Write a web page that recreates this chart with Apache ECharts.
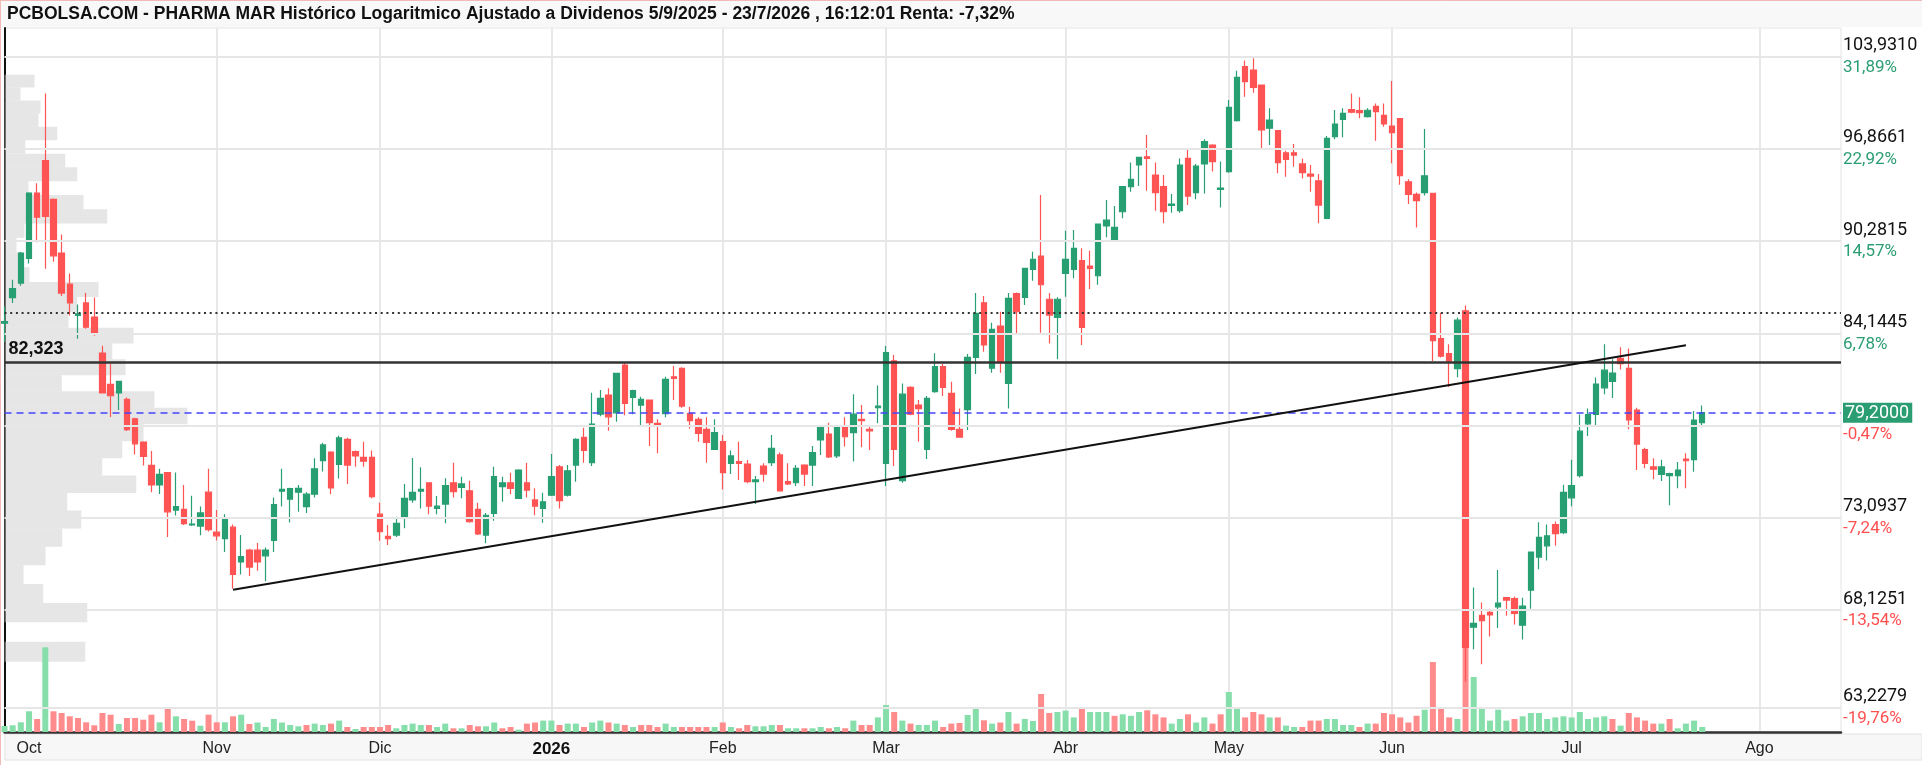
<!DOCTYPE html>
<html>
<head>
<meta charset="utf-8">
<script src="https://cdn.jsdelivr.net/npm/echarts@6/dist/echarts.min.js"></script>
<style>
  html, body { margin: 0; padding: 0; background: #fff; }
  #chart { width: 1922px; height: 765px; }
</style>
</head>
<body>
<div id="chart"></div>
<script>
var title = "PCBOLSA.COM - PHARMA MAR Histórico Logaritmico Ajustado a Dividenos 5/9/2025 - 23/7/2026 , 16:12:01 Renta: -7,32%";

// trading calendar shown on the x axis
var firstDay = "2025-09-26";
var lastDay = "2026-08-17";
var holidays = ["2025-12-25", "2025-12-26", "2026-01-01", "2026-04-03", "2026-04-06", "2026-05-01"];
var monthLabels = ["2026", "Feb", "Mar", "Abr", "May", "Jun", "Jul", "Ago", "Sep", "Oct", "Nov", "Dic"];

// daily candles, index 0 = 26/9/2025
var opens = [84.80, 86.47, 87.43, 89.10, 93.65, 95.99, 93.20, 89.46, 87.36, 85.30,
  86.12, 85.19, 82.89, 80.93, 80.40, 80.01, 78.83, 77.45, 76.08, 74.95,
  75.67, 73.53, 73.57, 72.70, 72.64, 74.54, 72.30, 71.95, 72.58, 70.68,
  71.32, 71.32, 71.01, 71.85, 74.60, 74.14, 74.54, 73.73, 74.43, 76.36,
  76.86, 76.14, 77.61, 76.89, 76.55, 76.55, 73.30, 72.07, 72.14, 73.07,
  74.10, 74.60, 75.08, 73.62, 73.87, 75.08, 74.82, 74.62, 73.57, 72.14,
  73.34, 74.86, 75.08, 74.19, 75.08, 74.10, 73.62, 74.37, 76.00, 74.37,
  76.10, 77.73, 76.24, 79.11, 80.27, 79.19, 82.13, 80.13, 79.66, 79.97,
  78.56, 79.15, 81.40, 81.93, 79.15, 78.80, 78.20, 77.02, 77.47, 76.20,
  76.30, 76.16, 75.14, 76.04, 76.24, 76.69, 75.14, 75.08, 76.10, 76.10,
  77.57, 77.92, 76.63, 78.36, 78.00, 78.80, 78.20, 79.50, 76.20, 82.40,
  75.20, 80.74, 79.66, 77.02, 80.48, 82.03, 80.38, 78.20, 79.39, 82.61,
  86.13, 81.93, 84.61, 80.99, 86.74, 86.48, 88.35, 89.25, 86.36, 85.17,
  88.08, 88.35, 88.94, 88.57, 87.92, 91.32, 90.35, 92.32, 94.10, 95.67,
  96.27, 94.94, 94.10, 92.77, 92.39, 96.15, 93.67, 95.75, 97.14, 93.90,
  95.19, 98.96, 103.13, 102.86, 101.69, 98.39, 98.21, 96.57, 96.57, 95.75,
  95.01, 94.53, 91.86, 97.76, 99.06, 99.80, 99.72, 99.27, 100.04, 99.36,
  98.56, 99.12, 94.45, 93.55, 93.68, 93.63, 83.80, 82.86, 81.91, 85.60,
  67.25, 67.86, 68.01, 68.30, 68.78, 68.73, 67.35, 69.17, 70.94, 71.55,
  72.72, 72.27, 74.22, 75.49, 78.53, 79.09, 80.72, 81.12, 82.55, 81.92,
  79.36, 77.00, 75.99, 75.56, 75.49, 75.49, 76.45, 76.41, 78.60];
var closes = [84.90, 87.06, 89.46, 93.65, 91.94, 92.00, 89.27, 86.77, 86.12, 85.40,
  84.54, 84.08, 80.40, 80.23, 81.11, 78.18, 77.34, 76.60, 74.95, 75.56,
  73.43, 73.73, 72.78, 72.75, 73.37, 72.44, 72.10, 73.09, 70.01, 70.97,
  70.40, 70.68, 71.32, 73.84, 74.70, 74.74, 74.76, 74.43, 75.88, 77.28,
  74.78, 77.69, 76.10, 76.63, 76.32, 74.29, 72.33, 71.94, 72.79, 74.19,
  74.53, 74.70, 73.75, 73.75, 74.92, 74.57, 75.01, 72.88, 72.20, 73.24,
  75.43, 75.08, 74.76, 75.81, 74.66, 73.75, 74.00, 75.43, 74.06, 75.77,
  77.61, 76.95, 78.51, 80.07, 78.95, 81.61, 79.77, 80.54, 80.01, 78.60,
  78.40, 81.24, 81.30, 79.60, 78.72, 77.96, 77.42, 78.00, 75.66, 76.63,
  76.20, 75.14, 75.24, 75.58, 77.08, 74.62, 75.01, 75.91, 75.58, 76.83,
  78.32, 76.57, 78.32, 77.76, 79.11, 78.72, 78.11, 79.60, 82.91, 77.02,
  80.33, 79.11, 79.45, 80.07, 82.03, 80.74, 78.20, 77.73, 82.61, 85.43,
  83.40, 84.40, 82.28, 86.42, 85.54, 88.42, 89.03, 87.32, 85.32, 86.36,
  89.03, 89.78, 84.53, 88.42, 91.46, 91.74, 91.23, 94.10, 94.63, 96.23,
  96.15, 93.67, 92.32, 92.86, 95.67, 93.43, 95.60, 97.39, 95.92, 94.00,
  99.97, 102.29, 101.95, 101.51, 98.26, 99.01, 95.85, 96.08, 96.40, 95.12,
  94.87, 92.79, 97.64, 98.71, 99.52, 99.60, 99.57, 99.75, 99.65, 98.71,
  98.06, 94.89, 93.55, 93.11, 94.89, 83.68, 82.69, 82.38, 84.99, 66.22,
  67.44, 67.58, 67.88, 68.49, 68.65, 67.96, 68.34, 71.21, 72.02, 72.10,
  72.22, 74.53, 74.92, 78.09, 79.09, 80.95, 81.81, 81.63, 82.22, 78.76,
  77.33, 76.20, 75.86, 75.99, 75.60, 75.81, 76.35, 78.76, 79.20];
var lows = [83.60, 86.12, 87.26, 88.74, 90.20, 88.39, 88.86, 86.58, 85.30, 83.80,
  84.44, 83.99, 80.40, 78.94, 79.36, 78.10, 76.71, 76.08, 74.54, 74.44,
  72.03, 73.23, 72.70, 72.64, 72.13, 72.34, 71.85, 71.21, 69.25, 70.01,
  69.92, 70.20, 69.64, 71.21, 73.73, 72.84, 73.43, 73.37, 74.24, 75.73,
  74.43, 75.32, 75.01, 76.00, 76.00, 74.19, 71.83, 71.60, 72.04, 72.52,
  73.94, 73.62, 73.30, 73.30, 72.79, 74.24, 74.19, 72.83, 72.15, 71.69,
  72.93, 74.00, 74.43, 74.15, 74.24, 73.24, 72.83, 74.33, 73.62, 74.30,
  75.14, 76.24, 76.04, 78.99, 78.11, 78.66, 79.05, 79.11, 78.46, 77.22,
  76.79, 78.93, 79.97, 79.50, 78.24, 77.47, 76.24, 76.98, 74.70, 75.58,
  75.24, 75.05, 73.87, 75.14, 76.04, 74.57, 74.95, 74.89, 74.89, 74.89,
  76.69, 76.51, 76.51, 77.18, 76.30, 77.14, 76.98, 78.56, 74.89, 76.04,
  75.08, 79.05, 77.47, 76.45, 80.42, 80.21, 78.11, 77.70, 78.16, 81.57,
  82.97, 81.65, 81.65, 79.45, 84.14, 85.98, 87.59, 84.18, 83.50, 82.50,
  86.52, 87.75, 83.40, 87.04, 87.32, 90.54, 90.30, 91.86, 93.74, 94.15,
  93.81, 92.39, 91.51, 92.25, 92.25, 92.79, 93.20, 93.62, 95.19, 92.62,
  95.10, 98.90, 100.79, 101.09, 96.89, 97.14, 95.08, 94.82, 95.55, 94.70,
  93.74, 91.51, 91.80, 97.57, 97.72, 99.52, 99.14, 99.20, 97.46, 98.51,
  95.79, 94.24, 92.87, 91.22, 93.47, 82.38, 82.60, 80.77, 81.37, 64.50,
  66.12, 65.37, 66.77, 67.20, 67.83, 67.39, 66.62, 68.20, 70.29, 70.75,
  71.55, 72.20, 73.74, 75.38, 77.80, 78.46, 80.33, 80.10, 81.85, 78.20,
  75.81, 75.92, 75.28, 75.18, 73.80, 74.76, 74.76, 75.71, 78.32];
var highs = [85.90, 87.66, 89.52, 93.70, 94.35, 101.03, 93.25, 90.74, 88.07, 86.02,
  86.77, 86.47, 83.35, 82.22, 81.11, 80.12, 78.90, 77.50, 76.92, 75.88,
  75.70, 75.67, 74.95, 74.34, 73.73, 75.88, 73.53, 73.30, 72.73, 72.14,
  71.40, 71.71, 71.46, 74.24, 75.88, 74.80, 74.95, 74.54, 76.50, 77.40,
  76.90, 77.82, 77.70, 76.95, 77.47, 76.95, 73.94, 72.70, 73.16, 75.01,
  76.51, 75.97, 75.10, 74.33, 75.34, 76.24, 75.43, 75.20, 73.94, 73.37,
  76.00, 75.43, 75.66, 75.85, 76.24, 74.76, 74.51, 76.75, 76.10, 76.10,
  77.67, 78.30, 80.42, 80.58, 80.69, 81.65, 82.24, 80.60, 80.17, 80.00,
  78.80, 81.40, 82.07, 82.00, 79.56, 78.93, 78.93, 78.80, 77.86, 76.95,
  77.47, 76.39, 75.47, 76.20, 77.86, 76.83, 76.20, 76.10, 76.15, 77.22,
  78.35, 78.60, 78.35, 78.93, 80.33, 79.66, 78.46, 80.86, 83.33, 82.76,
  80.99, 80.82, 79.97, 80.21, 82.87, 82.20, 81.09, 79.45, 82.82, 86.78,
  86.58, 84.83, 85.54, 86.78, 86.80, 88.45, 89.54, 93.50, 86.78, 86.49,
  90.99, 91.04, 89.78, 89.61, 91.50, 93.15, 92.72, 94.15, 95.85, 96.25,
  97.88, 95.85, 94.94, 93.57, 96.15, 96.89, 95.75, 97.57, 97.20, 95.92,
  100.53, 102.81, 103.60, 103.79, 101.70, 99.90, 98.25, 96.72, 97.21, 96.15,
  95.67, 95.01, 97.81, 99.77, 99.90, 101.04, 100.75, 99.90, 100.27, 100.27,
  102.00, 99.15, 94.64, 93.68, 98.34, 93.65, 85.47, 83.44, 85.16, 85.95,
  69.31, 68.53, 68.20, 70.25, 68.80, 68.84, 68.78, 71.25, 72.85, 72.72,
  72.89, 74.96, 76.41, 79.09, 79.45, 81.36, 83.44, 82.50, 83.26, 83.17,
  79.50, 77.11, 76.50, 76.41, 75.65, 76.28, 76.79, 79.31, 79.63];
// daily volume (thousand shares)
var volumes = [60, 67, 97, 207, 130, 847, 207, 190, 157, 140,
  97, 67, 190, 173, 80, 140, 140, 123, 173, 97,
  250, 157, 130, 113, 63, 173, 97, 97, 157, 173,
  80, 95, 50, 130, 95, 70, 57, 70, 84, 70,
  84, 114, 50, 30, 50, 50, 50, 70, 37, 70,
  84, 70, 70, 50, 84, 37, 37, 70, 57, 57,
  95, 37, 50, 24, 84, 95, 114, 114, 70, 84,
  84, 50, 95, 114, 95, 84, 70, 50, 70, 70,
  50, 84, 50, 50, 50, 50, 50, 50, 95, 50,
  37, 70, 57, 57, 70, 70, 37, 37, 37, 37,
  50, 37, 50, 37, 114, 70, 70, 146, 270, 200,
  114, 84, 70, 70, 114, 50, 84, 90, 170, 237,
  117, 84, 95, 200, 84, 130, 110, 380, 190, 200,
  214, 146, 237, 200, 200, 200, 162, 177, 162, 200,
  217, 177, 146, 84, 130, 177, 95, 146, 84, 177,
  400, 237, 146, 200, 177, 146, 146, 64, 50, 50,
  114, 114, 130, 130, 70, 70, 50, 84, 84, 190,
  177, 146, 95, 162, 223, 700, 237, 146, 130, 880,
  550, 237, 114, 223, 114, 130, 157, 190, 190, 130,
  146, 157, 146, 200, 130, 146, 157, 130, 64, 190,
  146, 114, 84, 84, 130, 37, 84, 114, 50];

// volume by price (bins of 1 euro)
var profilePrices = [66, 67, 68, 69, 70, 71, 72, 73, 74, 75, 76, 77, 78, 79, 80, 81, 82, 83, 84,
  85, 86, 87, 88, 89, 90, 91, 92, 93, 94, 95, 96, 97, 98, 99, 100, 101, 102];
var profileVolumes = [807, 0, 827, 387, 190, 410, 577, 767, 627, 1317, 977, 1177, 1390, 1830, 1500, 573, 1210, 1077, 1290,
  640, 727, 940, 250, 180, 120, 200, 1027, 790, 240, 727, 607, 207, 527, 340, 360, 160, 300];

// right axis levels
var gridPrices = [103.931, 96.8661, 90.2815, 84.1445, 78.4247, 73.0937, 68.1251, 63.2279];
var gridPriceLabels = ["103,9310", "96,8661", "90,2815", "84,1445", "", "73,0937", "68,1251", "63,2279"];
var gridPctLabels = ["31,89%", "22,92%", "14,57%", "6,78%", "", "-7,24%", "-13,54%", "-19,76%"];

var lastPrice = 79.2, lastPriceLabel = "79,2000", lastChangeLabel = "-0,47%";
var resistance = 82.323, resistanceLabel = "82,323";
var startPrice = 85.455;
var trendFrom = [28, 69.19], trendTo = [206, 83.38];

var upColor = "#279f72", downColor = "#ff5454";
var volUp = "#86deab", volDown = "#ff8c8c";

function buildDates() {
  var out = [];
  var d = new Date(firstDay + "T00:00:00Z");
  var end = new Date(lastDay + "T00:00:00Z");
  while (d <= end) {
    var s = d.toISOString().slice(0, 10);
    var wd = d.getUTCDay();
    if (wd !== 0 && wd !== 6 && holidays.indexOf(s) < 0) out.push(s);
    d.setUTCDate(d.getUTCDate() + 1);
  }
  return out;
}
var dates = buildDates();
var monthStart = dates.map(function (s, i) {
  return i > 0 && s.slice(5, 7) !== dates[i - 1].slice(5, 7);
});

var candles = opens.map(function (o, i) {
  return [o, closes[i], lows[i], highs[i]];
});
var volData = volumes.map(function (v, i) {
  var up = i === 0 ? closes[i] >= opens[i] : closes[i] >= closes[i - 1];
  return { value: v, itemStyle: { color: up ? volUp : volDown } };
});
var profData = profilePrices.map(function (p, i) {
  return [profileVolumes[i], p];
});

var gridLineData = gridPrices.map(function (p, i) {
  var txt = gridPriceLabels[i];
  var pct = gridPctLabels[i];
  return {
    yAxis: p,
    label: {
      show: txt !== "",
      formatter: "{p|" + txt + "}\n{" + (pct.charAt(0) === "-" ? "dn" : "up") + "|" + pct + "}"
    }
  };
});

var labelRich = {
  p: { fontFamily: "Roboto", fontSize: 18, color: "#111", lineHeight: 22 },
  up: { fontFamily: "Roboto", fontSize: 17, color: "#2a9d72", lineHeight: 22 },
  dn: { fontFamily: "Roboto", fontSize: 17, color: "#ff5050", lineHeight: 22 },
  s: { fontSize: 10, lineHeight: 22 },
  box: { fontFamily: "Roboto", fontSize: 18, color: "#fff", backgroundColor: "#2a9d72", lineHeight: 22, padding: [2, 3, 0, 2] }
};

var chart = echarts.init(document.getElementById("chart"));
chart.setOption({
  animation: false,
  backgroundColor: "#fff",
  graphic: [
    { type: "rect", z: -10, shape: { x: 0, y: 0, width: 1922, height: 27 }, style: { fill: "#f8f8f8" } },
    { type: "rect", z: -10, shape: { x: 5, y: 734, width: 1917, height: 26 }, style: { fill: "#f7f7f7", stroke: "#e2e2e2", lineWidth: 1 } },
    { type: "line", z: 10, shape: { x1: 0.5, y1: 0, x2: 0.5, y2: 765 }, style: { stroke: "#f2b9b9", lineWidth: 1 } },
    { type: "line", z: 10, shape: { x1: 0, y1: 0.5, x2: 1922, y2: 0.5 }, style: { stroke: "#f2b9b9", lineWidth: 1 } },
    {
      type: "text", left: 7, top: 5, z: 10,
      style: { text: title, font: 'bold 17.5px "Liberation Sans"', fill: "#111" }
    }
  ],
  grid: { left: 4.5, right: 81, top: 28, bottom: 33, show: true, borderColor: "#e4e4e4", borderWidth: 1 },
  xAxis: [
    {
      type: "category",
      data: dates,
      boundaryGap: false,
      axisLine: { lineStyle: { color: "#333", width: 2.5 } },
      axisTick: { show: false },
      axisLabel: {
        interval: function (i) { return monthStart[i]; },
        margin: 9,
        color: "#222",
        fontFamily: "Liberation Sans",
        fontSize: 16,
        formatter: function (v) {
          var m = +v.slice(5, 7);
          return m === 1 ? "{b|" + monthLabels[0] + "}" : monthLabels[m - 1];
        },
        rich: { b: { fontFamily: "Liberation Sans", fontSize: 17, fontWeight: "bold", color: "#111" } }
      },
      splitLine: {
        show: true,
        interval: function (i) { return monthStart[i] && dates[i].slice(5, 7) !== "10"; },
        lineStyle: { color: "#e8e8e8", width: 2 }
      }
    },
    { type: "value", min: 0, max: 18365, show: false }
  ],
  yAxis: [
    {
      type: "log",
      position: "right",
      min: 62.08,
      max: 106.21,
      axisLine: { show: true, lineStyle: { color: "#111", width: 2 } },
      axisTick: { show: false },
      axisLabel: { show: false },
      splitLine: { show: false }
    },
    { type: "value", min: 0, max: 7040, show: false }
  ],
  series: [
    {
      type: "line",
      xAxisIndex: 0,
      yAxisIndex: 0,
      data: [],
      z: 0,
      markLine: {
        silent: true,
        symbol: ["none", "none"],
        lineStyle: { color: "#e6e6e6", width: 2, type: "solid" },
        label: { position: "end", distance: 2, rich: labelRich },
        data: gridLineData
      }
    },
    {
      type: "custom",
      xAxisIndex: 1,
      yAxisIndex: 0,
      z: 1,
      silent: true,
      data: profData,
      renderItem: function (params, api) {
        var v = api.value(0), p = api.value(1);
        var a = api.coord([0, p + 0.5]);
        var b = api.coord([v, p - 0.5]);
        return {
          type: "rect",
          shape: { x: a[0], y: a[1], width: b[0] - a[0], height: b[1] - a[1] },
          style: { fill: "rgba(205,205,205,0.5)" }
        };
      }
    },
    {
      type: "bar",
      xAxisIndex: 0,
      yAxisIndex: 1,
      data: volData,
      barWidth: 6,
      z: 2,
      silent: true
    },
    {
      type: "candlestick",
      xAxisIndex: 0,
      yAxisIndex: 0,
      data: candles,
      barWidth: 6,
      z: 3,
      itemStyle: { color: upColor, color0: downColor, borderColor: upColor, borderColor0: downColor, borderWidth: 1.2 }
    },
    {
      type: "line",
      xAxisIndex: 0,
      yAxisIndex: 0,
      data: [],
      z: 5,
      markLine: {
        silent: true,
        symbol: ["none", "none"],
        data: [
          {
            yAxis: resistance,
            lineStyle: { color: "#333", width: 2.5, type: "solid" },
            label: {
              position: "insideStartTop", formatter: resistanceLabel, distance: 4,
              fontFamily: "Liberation Sans", fontWeight: "bold", fontSize: 18, color: "#111"
            }
          },
          {
            yAxis: startPrice,
            lineStyle: { color: "#333", width: 2, type: [2, 3.7] },
            label: { show: false }
          },
          {
            yAxis: lastPrice,
            lineStyle: { color: "#4444ff", width: 1.6, type: [7, 5] },
            label: {
              position: "end", distance: 2, rich: labelRich,
              formatter: "{s| }\n{box|" + lastPriceLabel + "}\n{dn|" + lastChangeLabel + "}"
            }
          },
          [
            { coord: [dates[trendFrom[0]], trendFrom[1]], lineStyle: { color: "#111", width: 2, type: "solid" }, label: { show: false } },
            { coord: [dates[trendTo[0]], trendTo[1]] }
          ]
        ]
      }
    }
  ]
});
</script>
</body>
</html>
